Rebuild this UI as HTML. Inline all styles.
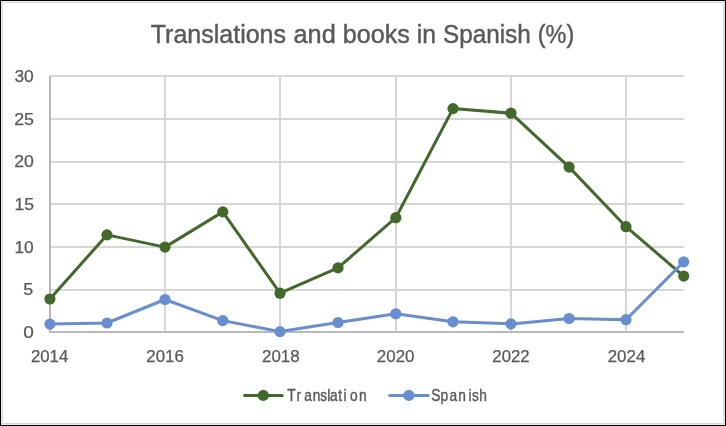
<!DOCTYPE html>
<html><head><meta charset="utf-8"><title>Translations and books in Spanish (%)</title>
<style>
html,body{margin:0;padding:0;background:#fff;}
body{width:726px;height:426px;overflow:hidden;font-family:"Liberation Sans",sans-serif;}
svg{display:block;will-change:transform;}
text{font-family:"Liberation Sans",sans-serif;fill:#595959;stroke:#595959;stroke-width:.25px;}
</style></head><body>
<svg width="726" height="426" viewBox="0 0 726 426">
<rect x="0" y="0" width="726" height="426" fill="#000"/>
<rect x="1" y="1" width="724" height="424" fill="#ebebeb"/>
<rect x="2" y="2" width="722" height="422" fill="#d9d9d9"/>
<rect x="3" y="3" width="720" height="420" fill="#fff"/>
<g stroke="#d7d7d7" stroke-width="2" fill="none">
<line x1="50" y1="76" x2="683.8" y2="76"/>
<line x1="50" y1="119" x2="683.8" y2="119"/>
<line x1="50" y1="162" x2="683.8" y2="162"/>
<line x1="50" y1="204" x2="683.8" y2="204"/>
<line x1="50" y1="247" x2="683.8" y2="247"/>
<line x1="50" y1="290" x2="683.8" y2="290"/>
<line x1="165" y1="75" x2="165" y2="332"/>
<line x1="280" y1="75" x2="280" y2="332"/>
<line x1="396" y1="75" x2="396" y2="332"/>
<line x1="511" y1="75" x2="511" y2="332"/>
<line x1="626" y1="75" x2="626" y2="332"/>
</g>
<g stroke="#b9b9b9" stroke-width="2" fill="none">
<line x1="50" y1="76" x2="50" y2="333"/>
<line x1="49.5" y1="332" x2="683.8" y2="332"/>
</g>
<polyline points="49.9,299.0 107.0,234.9 165.0,247.1 222.8,211.9 280.0,293.2 338.0,267.9 395.8,217.7 453.0,108.6 511.0,113.2 569.1,167.1 626.0,226.7 683.7,276.1" fill="none" stroke="#43682b" stroke-width="3" stroke-linejoin="round" stroke-linecap="round"/>
<circle cx="49.9" cy="299.0" r="5.6" fill="#43682b"/>
<circle cx="107.0" cy="234.9" r="5.6" fill="#43682b"/>
<circle cx="165.0" cy="247.1" r="5.6" fill="#43682b"/>
<circle cx="222.8" cy="211.9" r="5.6" fill="#43682b"/>
<circle cx="280.0" cy="293.2" r="5.6" fill="#43682b"/>
<circle cx="338.0" cy="267.9" r="5.6" fill="#43682b"/>
<circle cx="395.8" cy="217.7" r="5.6" fill="#43682b"/>
<circle cx="453.0" cy="108.6" r="5.6" fill="#43682b"/>
<circle cx="511.0" cy="113.2" r="5.6" fill="#43682b"/>
<circle cx="569.1" cy="167.1" r="5.6" fill="#43682b"/>
<circle cx="626.0" cy="226.7" r="5.6" fill="#43682b"/>
<circle cx="683.7" cy="276.1" r="5.6" fill="#43682b"/>
<polyline points="49.9,324.1 107.0,323.0 165.0,299.5 222.8,320.6 280.0,331.6 338.0,322.5 395.8,313.8 453.0,321.8 511.0,323.9 569.1,318.5 626.0,319.7 683.7,261.9" fill="none" stroke="#698ed0" stroke-width="3" stroke-linejoin="round" stroke-linecap="round"/>
<circle cx="49.9" cy="324.1" r="5.6" fill="#698ed0"/>
<circle cx="107.0" cy="323.0" r="5.6" fill="#698ed0"/>
<circle cx="165.0" cy="299.5" r="5.6" fill="#698ed0"/>
<circle cx="222.8" cy="320.6" r="5.6" fill="#698ed0"/>
<circle cx="280.0" cy="331.6" r="5.6" fill="#698ed0"/>
<circle cx="338.0" cy="322.5" r="5.6" fill="#698ed0"/>
<circle cx="395.8" cy="313.8" r="5.6" fill="#698ed0"/>
<circle cx="453.0" cy="321.8" r="5.6" fill="#698ed0"/>
<circle cx="511.0" cy="323.9" r="5.6" fill="#698ed0"/>
<circle cx="569.1" cy="318.5" r="5.6" fill="#698ed0"/>
<circle cx="626.0" cy="319.7" r="5.6" fill="#698ed0"/>
<circle cx="683.7" cy="261.9" r="5.6" fill="#698ed0"/>
<g id="texts">
<text id="t0" x="150.75" y="42.6" font-size="25.8" style="stroke-width:.45px" textLength="135.25" lengthAdjust="spacingAndGlyphs">Translations</text>
<text id="t1" x="293.50" y="42.6" font-size="25.8" style="stroke-width:.45px" textLength="42.25" lengthAdjust="spacingAndGlyphs">and</text>
<text id="t2" x="342.75" y="42.6" font-size="25.8" style="stroke-width:.45px" textLength="67.00" lengthAdjust="spacingAndGlyphs">books</text>
<text id="t3" x="416.75" y="42.6" font-size="25.8" style="stroke-width:.45px" textLength="19.25" lengthAdjust="spacingAndGlyphs">in</text>
<text id="t4" x="443.00" y="42.6" font-size="25.8" style="stroke-width:.45px" textLength="87.75" lengthAdjust="spacingAndGlyphs">Spanish</text>
<text id="t5" x="537.75" y="42.6" font-size="25.8" style="stroke-width:.45px" textLength="36.50" lengthAdjust="spacingAndGlyphs">(%)</text>
<text id="y0" x="23.25" y="338.1" font-size="16.6" textLength="10.60" lengthAdjust="spacingAndGlyphs">0</text>
<text id="y5" x="23.25" y="295.4" font-size="16.6" textLength="9.95" lengthAdjust="spacingAndGlyphs">5</text>
<text id="y10" x="14.45" y="252.7" font-size="16.6" textLength="19.30" lengthAdjust="spacingAndGlyphs">10</text>
<text id="y15" x="14.45" y="210.0" font-size="16.6" textLength="19.55" lengthAdjust="spacingAndGlyphs">15</text>
<text id="y20" x="14.15" y="167.3" font-size="16.6" textLength="19.60" lengthAdjust="spacingAndGlyphs">20</text>
<text id="y25" x="14.15" y="124.6" font-size="16.6" textLength="19.85" lengthAdjust="spacingAndGlyphs">25</text>
<text id="y30" x="14.40" y="81.9" font-size="16.6" textLength="19.35" lengthAdjust="spacingAndGlyphs">30</text>
<text id="x2014" x="30.95" y="361.6" font-size="16.6" textLength="37.35" lengthAdjust="spacingAndGlyphs">2014</text>
<text id="x2016" x="146.35" y="361.6" font-size="16.6" textLength="37.55" lengthAdjust="spacingAndGlyphs">2016</text>
<text id="x2018" x="262.01" y="361.6" font-size="16.6" textLength="37.55" lengthAdjust="spacingAndGlyphs">2018</text>
<text id="x2020" x="376.86" y="361.6" font-size="16.6" textLength="37.60" lengthAdjust="spacingAndGlyphs">2020</text>
<text id="x2022" x="492.37" y="361.6" font-size="16.6" textLength="37.35" lengthAdjust="spacingAndGlyphs">2022</text>
<text id="x2024" x="607.72" y="361.6" font-size="16.6" textLength="37.60" lengthAdjust="spacingAndGlyphs">2024</text>
<text id="lg1" transform="scale(0.830,1)" style="stroke-width:.4px" x="345.96 357.36 366.60 376.76 385.92 394.18 397.62 407.39 413.82 421.71 432.48" y="400.9" font-size="16.6">Translation</text>
<text id="lg2" transform="scale(0.830,1)" style="stroke-width:.4px" x="519.59 530.74 541.54 552.18 564.55 568.69 577.40" y="400.9" font-size="16.6">Spanish</text>
</g>
<line x1="244.6" y1="395.4" x2="282.2" y2="395.4" stroke="#43682b" stroke-width="3" stroke-linecap="round"/>
<circle cx="263.3" cy="395.4" r="5.6" fill="#43682b"/>
<line x1="389.7" y1="395.4" x2="428.2" y2="395.4" stroke="#698ed0" stroke-width="3" stroke-linecap="round"/>
<circle cx="408.9" cy="395.4" r="5.6" fill="#698ed0"/>
</svg></body></html>
